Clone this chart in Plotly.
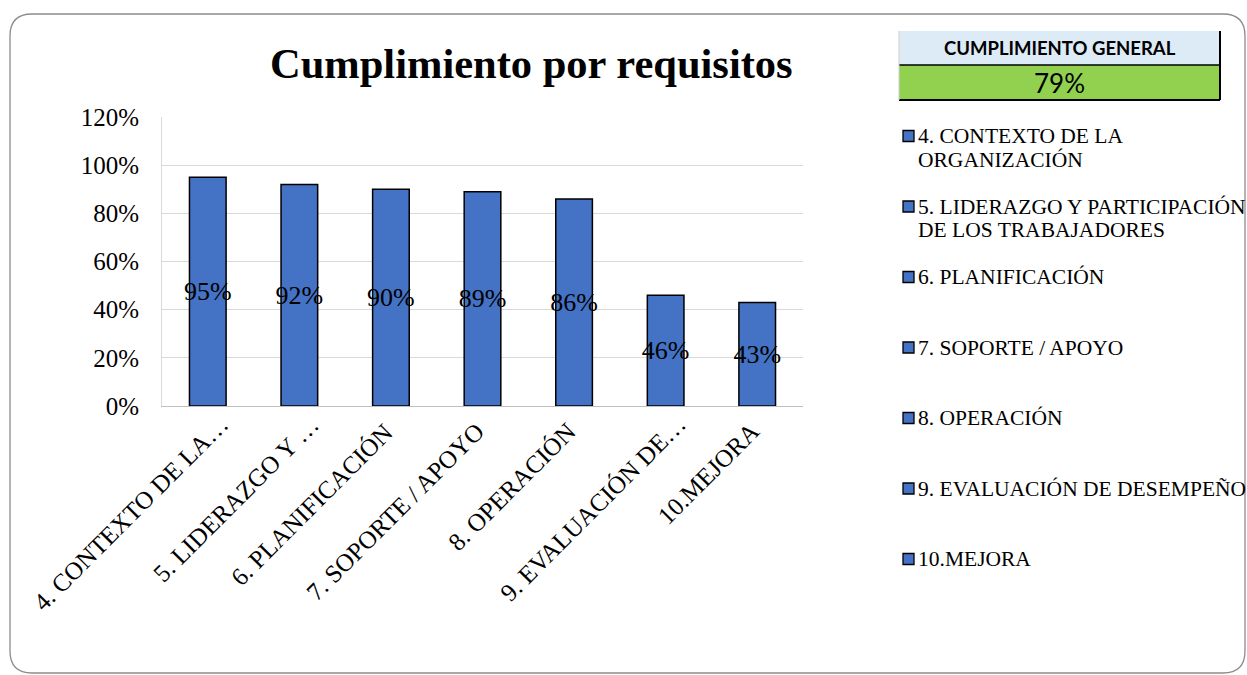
import textwrap
import plotly.graph_objects as go

# Requirement chapters and their compliance ratio
categories = [
    "4. CONTEXTO DE LA ORGANIZACIÓN",
    "5. LIDERAZGO Y PARTICIPACIÓN DE LOS TRABAJADORES",
    "6. PLANIFICACIÓN",
    "7. SOPORTE / APOYO",
    "8. OPERACIÓN",
    "9. EVALUACIÓN DE DESEMPEÑO",
    "10.MEJORA",
]
tick_labels = [
    "4. CONTEXTO DE LA…",
    "5. LIDERAZGO Y …",
    "6. PLANIFICACIÓN",
    "7. SOPORTE / APOYO",
    "8. OPERACIÓN",
    "9. EVALUACIÓN DE…",
    "10.MEJORA",
]
compliance = [0.95, 0.92, 0.90, 0.89, 0.86, 0.46, 0.43]
overall_label = "CUMPLIMIENTO GENERAL"
overall_value = 0.79

W, H = 1247, 675
PL, PR, PT, PB = 162, 803, 117, 406  # plot area in pixels

SERIF = "Liberation Serif, Times New Roman, serif"
SANS = "Lato, Carlito, Calibri, sans-serif"
BAR_BLUE = "#4472C4"


def px(x):
    return (x - PL) / (PR - PL)


def py(y):
    return (PB - y) / (PB - PT)


fig = go.Figure()
fig.add_trace(go.Bar(
    x=categories,
    y=compliance,
    marker=dict(color=BAR_BLUE, line=dict(color="black", width=1.5)),
    text=[f"{v:.0%}" for v in compliance],
    textposition="inside",
    insidetextanchor="middle",
    textangle=0,
    constraintext="none",
    textfont=dict(family=SERIF, size=26, color="black"),
    showlegend=False,
))

shapes = []
annotations = []

# Rounded outer frame
x0, y0, x1, y1, r = 10, 14, 1245, 673, 22
frame = (
    f"M {px(x0 + r)},{py(y0)} L {px(x1 - r)},{py(y0)} "
    f"Q {px(x1)},{py(y0)} {px(x1)},{py(y0 + r)} "
    f"L {px(x1)},{py(y1 - r)} Q {px(x1)},{py(y1)} {px(x1 - r)},{py(y1)} "
    f"L {px(x0 + r)},{py(y1)} Q {px(x0)},{py(y1)} {px(x0)},{py(y1 - r)} "
    f"L {px(x0)},{py(y0 + r)} Q {px(x0)},{py(y0)} {px(x0 + r)},{py(y0)} Z"
)
shapes.append(dict(type="path", xref="paper", yref="paper", path=frame,
                   line=dict(color="#8C8C8C", width=1.3), layer="below"))

# Overall compliance box
tx0, tx1, ty0, ty1, ty2 = 899, 1220, 31, 65, 100
shapes += [
    dict(type="rect", xref="paper", yref="paper", x0=px(tx0), x1=px(tx1),
         y0=py(ty0), y1=py(ty1), fillcolor="#DDEBF7", line=dict(width=0)),
    dict(type="rect", xref="paper", yref="paper", x0=px(tx0), x1=px(tx1),
         y0=py(ty1), y1=py(ty2), fillcolor="#92D050", line=dict(width=0)),
    dict(type="line", xref="paper", yref="paper", x0=px(tx0), x1=px(tx1),
         y0=py(ty1), y1=py(ty1), line=dict(color="black", width=1.5)),
    dict(type="line", xref="paper", yref="paper", x0=px(tx0), x1=px(tx1),
         y0=py(ty2), y1=py(ty2), line=dict(color="black", width=2)),
    dict(type="line", xref="paper", yref="paper", x0=px(tx1), x1=px(tx1),
         y0=py(ty0), y1=py(ty2), line=dict(color="black", width=2)),
    dict(type="line", xref="paper", yref="paper", x0=px(tx0), x1=px(tx0),
         y0=py(ty0), y1=py(ty2), line=dict(color="#D0D0D0", width=1)),
]
annotations += [
    dict(xref="paper", yref="paper", x=px((tx0 + tx1) / 2), y=py((ty0 + ty1) / 2),
         text=f"<b>{overall_label}</b>", showarrow=False,
         font=dict(family=SANS, size=18.5, color="black"),
         xanchor="center", yanchor="middle"),
    dict(xref="paper", yref="paper", x=px((tx0 + tx1) / 2), y=py((ty1 + ty2) / 2 + 1),
         text=f"{overall_value:.0%}", showarrow=False,
         font=dict(family=SANS, size=26, color="black"),
         xanchor="center", yanchor="middle"),
]

# Category legend (one annotation per wrapped line for tight spacing)
ly0, lstep, lline = 136, 70.5, 23.5
for i, name in enumerate(categories):
    cy = ly0 + i * lstep
    shapes.append(dict(type="rect", xref="paper", yref="paper",
                       x0=px(903), x1=px(914), y0=py(cy - 5.5), y1=py(cy + 5.5),
                       fillcolor=BAR_BLUE, line=dict(color="black", width=1.3)))
    for j, line in enumerate(textwrap.wrap(name, 28)):
        annotations.append(dict(
            xref="paper", yref="paper", x=px(916), y=py(cy + j * lline),
            text=line, showarrow=False,
            font=dict(family=SERIF, size=21.5, color="black"),
            xanchor="left", yanchor="middle"))

# Rotated category labels under the axis
for cat, lab in zip(categories, tick_labels):
    extra = 18 if lab.endswith("…") else 0
    annotations.append(dict(
        xref="x", yref="paper", x=cat, y=py(415 - extra * 0.4),
        text=lab, showarrow=False, textangle=-45,
        font=dict(family=SERIF, size=25, color="black"),
        xanchor="right", yanchor="top", xshift=10 + extra))

# Chart title
annotations.append(dict(
    xref="paper", yref="paper", x=px(531), y=py(63),
    text="<b>Cumplimiento por requisitos</b>", showarrow=False,
    font=dict(family=SERIF, size=42.5, color="black"),
    xanchor="center", yanchor="middle"))

fig.update_layout(
    width=W, height=H,
    margin=dict(l=PL, r=W - PR, t=PT, b=H - PB, pad=0),
    paper_bgcolor="white", plot_bgcolor="white",
    bargap=0.6,
    shapes=shapes,
    annotations=annotations,
    xaxis=dict(
        type="category", range=[-0.5, len(categories) - 0.5], autorange=False,
        showticklabels=False,
        showline=True, linecolor="#BFBFBF", linewidth=1,
        showgrid=False, ticks="",
    ),
    yaxis=dict(
        range=[0, 1.2], dtick=0.2, tickformat=".0%",
        tickfont=dict(family=SERIF, size=25, color="black"),
        showgrid=True, gridcolor="#D9D9D9", gridwidth=1,
        showline=True, linecolor="#D9D9D9", linewidth=1,
        zeroline=False, ticks="", ticklabelstandoff=17,
    ),
)

fig.write_html("out.html")
